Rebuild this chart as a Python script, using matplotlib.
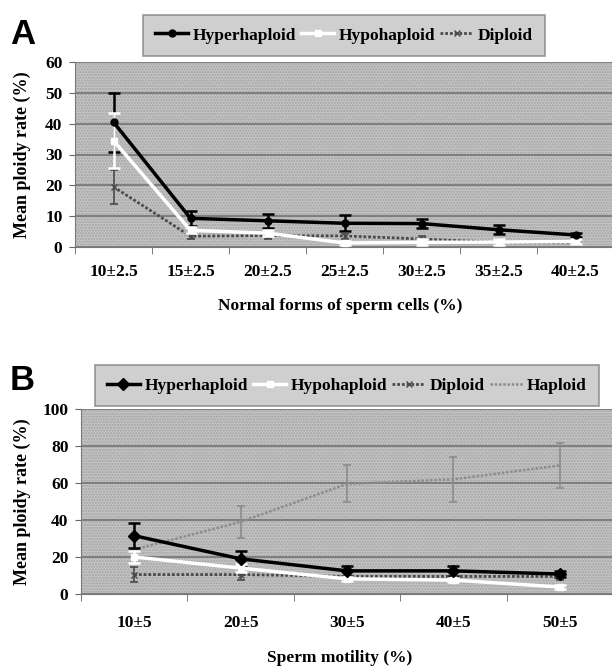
import matplotlib
matplotlib.use("Agg")
import matplotlib.pyplot as plt
from matplotlib.patches import Rectangle

# Panel A: normal forms of sperm cells
morph_labels = ["10±2.5", "15±2.5", "20±2.5", "25±2.5", "30±2.5", "35±2.5", "40±2.5"]
morph_hyper = [40.5, 9.3, 8.5, 7.7, 7.6, 5.6, 3.9]
morph_hyper_err = [9.6, 2.5, 2.2, 2.6, 1.5, 1.5, 0.8]
morph_hypo = [34.5, 5.4, 4.5, 1.3, 1.5, 1.6, 1.8]
morph_hypo_err = [8.8, 1.0, 1.0, 0.8, 1.0, 1.0, 0.8]
morph_dipl = [19.5, 3.5, 3.7, 3.6, 2.6, 1.5, 1.5]
morph_dipl_err = [5.5, 1.0, 1.0, 1.0, 1.0, 1.0, 1.0]

# Panel B: sperm motility
motil_labels = ["10±5", "20±5", "30±5", "40±5", "50±5"]
motil_hyper = [31.5, 19.0, 12.5, 12.5, 10.8]
motil_hyper_err = [6.8, 4.3, 2.5, 2.5, 1.5]
motil_hypo = [20.0, 14.0, 8.2, 7.5, 3.8]
motil_hypo_err = [3.0, 2.0, 1.0, 1.0, 1.0]
motil_dipl = [10.5, 10.5, 9.5, 9.5, 9.5]
motil_dipl_err = [4.0, 3.0, 2.0, 2.0, 2.0]
motil_hapl = [24.0, 39.0, 59.5, 62.0, 69.5]
motil_hapl_err = [0.0, 8.5, 10.0, 12.0, 12.0]

SERIF = "Liberation Serif"
BG = "#c4c4c4"
W, H = 612, 666

fig = plt.figure(figsize=(W / 100, H / 100), dpi=100)


def stipple(ax):
    ax.set_facecolor(BG)
    r = Rectangle((0, 0), 1, 1, transform=ax.transAxes, facecolor="none",
                  edgecolor="#a2a2a2", hatch="......", linewidth=0, zorder=0)
    ax.add_patch(r)


def style_axes(ax, labels, ymax, ystep, xpad):
    stipple(ax)
    n = len(labels)
    ax.set_xlim(-0.5, n - 0.5)
    ax.set_ylim(0, ymax)
    ax.set_xticks(range(n))
    ax.set_xticklabels(labels)
    ax.set_xticks([i + 0.5 for i in range(-1, n)], minor=True)
    ax.tick_params(axis="x", which="major", length=0, pad=xpad)
    ax.tick_params(axis="x", which="minor", length=5, color="#666666", direction="out")
    ax.set_yticks(range(0, ymax + 1, ystep))
    ax.tick_params(axis="y", length=4, color="#666666", pad=5)
    for lab in ax.get_xticklabels() + ax.get_yticklabels():
        lab.set_fontfamily(SERIF)
        lab.set_fontweight("bold")
        lab.set_fontsize(12.5)
    ax.yaxis.grid(True, color="#6e6e6e", linewidth=1.1)
    ax.set_axisbelow(True)
    for s in ("top", "right"):
        ax.spines[s].set_visible(False)
    ax.spines["left"].set_color("#777777")
    ax.spines["bottom"].set_color("#777777")


def series(ax, x, y, e, color, lw, marker, ms, ecolor, zline, zerr, ls="-", cap=4):
    ax.errorbar(x, y, yerr=e, fmt="none", ecolor=ecolor, elinewidth=1.8 if lw > 2 else 1.2,
                capsize=cap, capthick=1.8 if lw > 2 else 1.2, zorder=zerr)
    line, = ax.plot(x, y, color=color, lw=lw, ls=ls, marker=marker, ms=ms,
                    markerfacecolor=color, markeredgecolor=color, zorder=zline)
    return line


def legend(handles, labels, cx, cy):
    leg = fig.legend(handles, labels, loc="center", bbox_to_anchor=(cx / W, 1 - cy / H),
                     ncol=len(labels), frameon=True, fancybox=False, facecolor=BG,
                     edgecolor="#808080", handlelength=1.9, handletextpad=0.25,
                     columnspacing=0.3, borderpad=0.7, borderaxespad=0,
                     prop={"family": SERIF, "weight": "bold", "size": 12.5})
    leg.get_frame().set_linewidth(1.2)
    return leg


# ---- Panel A ----
axA = fig.add_axes([75 / W, 1 - 247 / H, 539 / W, 185 / H])
style_axes(axA, morph_labels, 60, 10, 12)
xa = list(range(len(morph_labels)))
hA1 = series(axA, xa, morph_hyper, morph_hyper_err, "black", 2.5, "o", 5, "black", 5, 2)
hA3 = series(axA, xa, morph_dipl, morph_dipl_err, "#4a4a4a", 2.0, "x", 4, "#4a4a4a", 3, 3,
             ls=(0, (1, 0.7)), cap=3)
hA2 = series(axA, xa, morph_hypo, morph_hypo_err, "white", 2.5, "s", 4, "white", 4, 4)

axA.set_ylabel("Mean ploidy rate (%)", fontfamily=SERIF, fontweight="bold", fontsize=13)
axA.yaxis.set_label_coords(-0.082, 0.5)
fig.text(340 / W, 1 - 306 / H, "Normal forms of sperm cells (%)", ha="center", va="center",
         fontfamily=SERIF, fontweight="bold", fontsize=12.5)
fig.text(10 / W, 1 - 35 / H, "A", ha="left", va="center", fontfamily="Liberation Sans",
         fontweight="bold", fontsize=25)
legend([hA1, hA2, hA3], ["Hyperhaploid", "Hypohaploid", "Diploid"], 344, 35.5)

# ---- Panel B ----
axB = fig.add_axes([81 / W, 1 - 594 / H, 532 / W, 185 / H])
style_axes(axB, motil_labels, 100, 20, 15)
xb = list(range(len(motil_labels)))
hB4 = series(axB, xb, motil_hapl, motil_hapl_err, "#8c8c8c", 1.8, None, 0, "#8c8c8c", 2, 2,
             ls=(0, (1, 0.7)), cap=3)
hB1 = series(axB, xb, motil_hyper, motil_hyper_err, "black", 2.5, "D", 6, "black", 5, 2.5)
hB3 = series(axB, xb, motil_dipl, motil_dipl_err, "#4a4a4a", 2.0, "x", 4, "#4a4a4a", 3, 3,
             ls=(0, (1, 0.7)), cap=3)
hB2 = series(axB, xb, motil_hypo, motil_hypo_err, "white", 2.5, "s", 5, "white", 4, 4)

axB.set_ylabel("Mean ploidy rate (%)", fontfamily=SERIF, fontweight="bold", fontsize=13)
axB.yaxis.set_label_coords(-0.094, 0.5)
fig.text(340 / W, 1 - 658 / H, "Sperm motility (%)", ha="center", va="center",
         fontfamily=SERIF, fontweight="bold", fontsize=12.5)
fig.text(10 / W, 1 - 381 / H, "B", ha="left", va="center", fontfamily="Liberation Sans",
         fontweight="bold", fontsize=25)
legend([hB1, hB2, hB3, hB4], ["Hyperhaploid", "Hypohaploid", "Diploid", "Haploid"], 347, 385.5)

fig.savefig("out.png", dpi=100)
